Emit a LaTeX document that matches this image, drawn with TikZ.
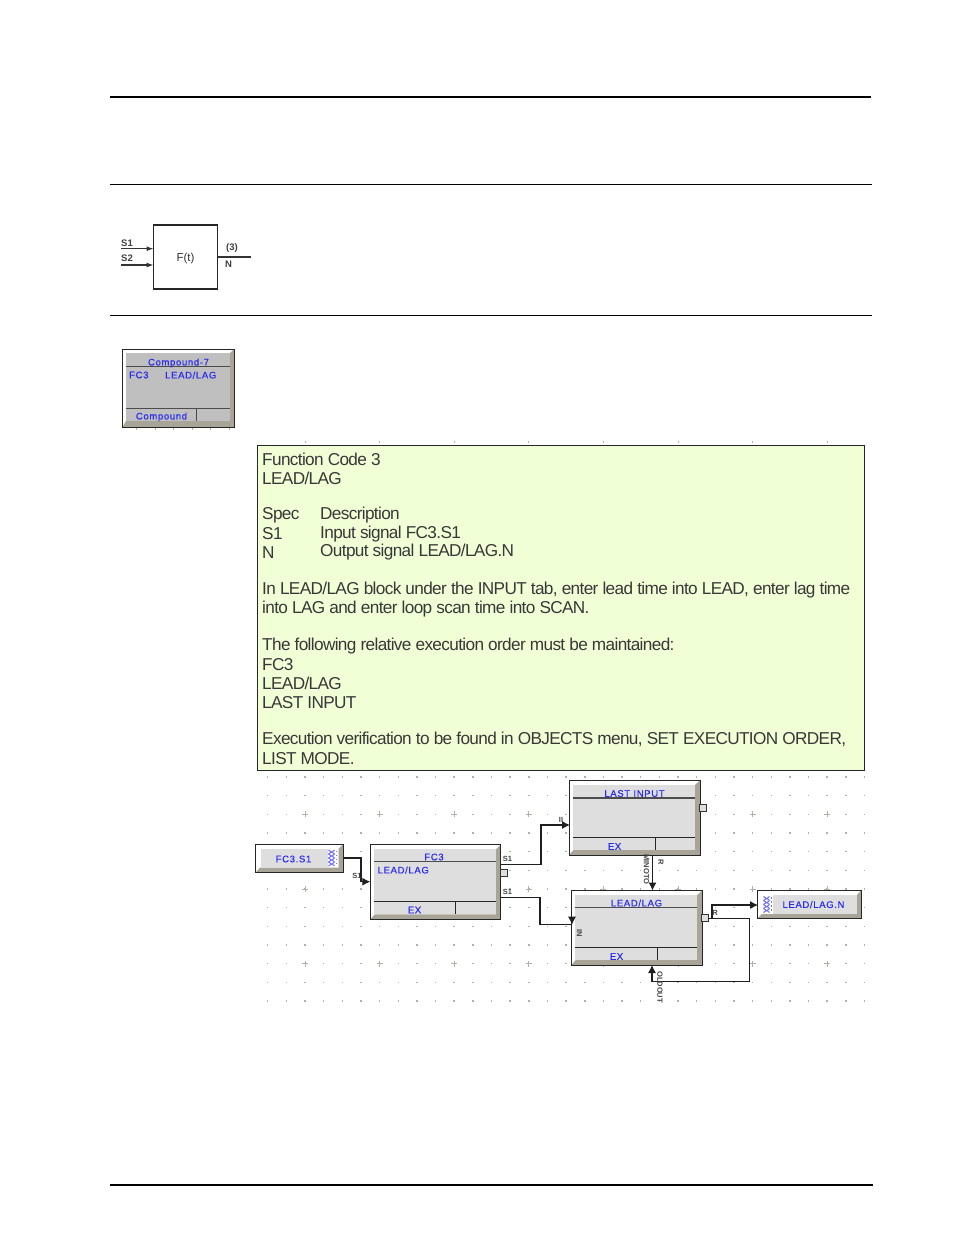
\documentclass[tikz,border=0pt]{standalone}
\usepackage{fontspec}
\setmainfont{Liberation Sans}
\usetikzlibrary{arrows.meta}
\definecolor{noteg}{HTML}{F0FFD6}
\definecolor{bev}{HTML}{A8A498}
\definecolor{inner}{HTML}{DEDEDE}
\definecolor{bluetxt}{HTML}{2A2AF0}
\definecolor{griddot}{HTML}{B4B1A4}
\definecolor{pinlab}{HTML}{444444}
\newfontfamily\tightfont[LetterSpace=-3.75]{Liberation Sans}
\newfontfamily\wideblue[LetterSpace=7,FakeBold=0.3]{Liberation Sans}
\tikzset{
  x=1pt,y=-1pt,
  rulethick/.style={line width=1.5pt,black},
  rulethin/.style={line width=0.9pt,black},
  fn/.style={draw=black!85,line width=1.1pt,fill=white},
  fnline/.style={draw=black!80,line width=1.1pt},
  fnlabel/.style={font=\fontsize{9.5}{11}\selectfont\bfseries,text=black!75,inner sep=0pt},
  blue label/.style={font=\wideblue\fontsize{9.5}{11}\selectfont,text=bluetxt,inner sep=0pt},
  notetext/.style={font=\tightfont\fontsize{17.2}{18}\selectfont,anchor=west,inner sep=0pt,text=black!78},
  wire/.style={draw=black!88,line width=1.05pt},
  arrowwire/.style={wire,-{Latex[length=8pt,width=8pt]}},
  pinlabel/.style={font=\fontsize{7.5}{8}\selectfont\bfseries,text=pinlab,inner sep=0pt},
  pin/.style={draw=black!80,fill=inner,line width=0.9pt},
}
\newcommand{\blockbox}[7]{%
  \fill[white] (#1,#2) rectangle (#3,#4);
  \fill[bev] (#3,#2) -- (#3,#4) -- (#1,#4) -- (#1+4.5,#4-5) -- (#3-5,#4-5) -- (#3-5,#2+5) -- cycle;
  \fill[inner] (#1+4,#2+4.5) rectangle (#3-5,#4-5);
  \draw[black!85,line width=1pt] (#1,#2) rectangle (#3,#4);
  \draw[black!70,line width=1.1pt] (#1+4,#5) -- (#3-5,#5);
  \draw[black!85,line width=0.9pt] (#1+4,#6) -- (#3-5,#6);
  \draw[black!85,line width=0.9pt] (#7,#6) -- (#7,#4-5);
}
\newcommand{\hatchbar}[2]{%
  \foreach \yy in {0,4,...,12}{
    \draw[bluetxt!65,line width=1.1pt] (#1,#2+\yy) -- (#1+3,#2+\yy+2) -- (#1,#2+\yy+4);
    \draw[bluetxt!65,line width=1.1pt] (#1+6,#2+\yy) -- (#1+3.5,#2+\yy+2) -- (#1+6,#2+\yy+4);
    \fill[bluetxt!65] (#1+7,#2+\yy+0.5) rectangle (#1+8.8,#2+\yy+2.2);
  }}
\begin{document}
\begin{tikzpicture}
\useasboundingbox (0,0) rectangle (954,1235);
\fill[white] (0,0) rectangle (954,1235);
% rules
\coordinate (r1a) at (110,97); \coordinate (r1b) at (871,97);
\coordinate (r2a) at (110,184); \coordinate (r2b) at (872,184);
\coordinate (r3a) at (110,315.5); \coordinate (r3b) at (872,315.5);
\coordinate (r4a) at (110,1185); \coordinate (r4b) at (873,1185);
\draw[rulethick] (r1a) -- (r1b);
\draw[rulethin] (r2a) -- (r2b);
\draw[rulethin] (r3a) -- (r3b);
\draw[rulethick] (r4a) -- (r4b);
% function block
\node[fn,minimum width=64pt,minimum height=64pt,inner sep=0pt] (ft) at (185.5,257) {};
\node[font=\fontsize{11.5}{12}\selectfont,text=black!80,inner sep=0pt] (ftl) at (185.5,258.5) {F(t)};
\coordinate (s1in) at (121,248.7); \coordinate (s2in) at (121,265);
\coordinate (s1t) at (153.5,248.7); \coordinate (s2t) at (153.5,265);
\coordinate (nout) at (251,257); \coordinate (nf) at (217.5,257);
\draw[fnline,-{Latex[length=7pt,width=5pt]}] (s1in) -- (s1t);
\draw[fnline,-{Latex[length=7pt,width=5pt]}] (s2in) -- (s2t);
\draw[fnline] (nf) -- (nout);
\node[fnlabel] (ls1) at (127,243.5) {S1};
\node[fnlabel] (ls2) at (127,258.5) {S2};
\node[fnlabel] (l3) at (232,248) {(3)};
\node[fnlabel] (ln) at (228.5,264.5) {N};
% compound tile
\foreach \x in {136,154.5,173,191.5,210,228.5} \fill[griddot] (\x,427.5) rectangle (\x+1,429.5);
\fill[white] (122.5,349) rectangle (234,427);
\fill[bev] (234,349) -- (234,427) -- (122.5,427) -- (126,421) -- (230,421) -- (230,353) -- cycle;
\fill[black!25] (126,353) rectangle (230,421);
\draw[black!85,line width=1pt] (122.5,349) rectangle (234,427);
\coordinate (cta) at (126,366.7); \coordinate (ctb) at (230,366.7);
\coordinate (cfa) at (126,408); \coordinate (cfb) at (230,408);
\coordinate (cda) at (196,408); \coordinate (cdb) at (196,421);
\draw[black!70,line width=1pt] (cta) -- (ctb);
\draw[black!70,line width=1pt] (cfa) -- (cfb);
\draw[black!70,line width=1pt] (cda) -- (cdb);
\node[blue label] (c1) at (178.5,363) {Compound-7};
\node[blue label,anchor=west] (c2) at (129,375) {FC3};
\node[blue label,anchor=west] (c3) at (165,375) {LEAD/LAG};
\node[blue label] (c4) at (161.5,417) {Compound};
% grid
\foreach \i in {0,...,32}{
  \pgfmathsetmacro{\gx}{267.7+18.65*\i}
  \foreach \gy in {777,795.7,814.3,833,851.6,870.3,889,907.6,926.3,945,963.6,982.3,1001}
    \fill[griddot] (\gx-0.75,\gy-0.75) rectangle (\gx+0.75,\gy+0.75);
}
\foreach \gx in {305,379.6,454.2,528.8,603.4,678,752.6,827.2}{
  \fill[griddot] (\gx-0.5,440.5) rectangle (\gx+0.5,443);
  \foreach \gy in {814.3,889,963.6}{
    \draw[griddot,line width=0.8pt] (\gx-3,\gy) -- (\gx+3,\gy) (\gx,\gy-3) -- (\gx,\gy+3);
  }}
% note
\node[draw=black!85,line width=0.9pt,fill=noteg,minimum width=607pt,minimum height=325pt,inner sep=0pt] (note) at (561,608) {};
\node[notetext] (m1) at (262,459.5) {Function Code 3};
\node[notetext] (m2) at (262,478.5) {LEAD/LAG};
\node[notetext] (n1) at (262,515.5) {Spec};
\node[notetext] (n2) at (320,515.5) {Description};
\node[notetext] (n3) at (262,534) {S1};
\node[notetext] (n4) at (320,534) {Input signal FC3.S1};
\node[notetext] (n5) at (262,552.5) {N};
\node[notetext] (n6) at (320,552.5) {Output signal LEAD/LAG.N};
\node[notetext] (n7) at (262,590.5) {In LEAD/LAG block under the INPUT tab, enter lead time into LEAD, enter lag time};
\node[notetext] (n8) at (262,609) {into LAG and enter loop scan time into SCAN.};
\node[notetext] (m3) at (262,646.5) {The following relative execution order must be maintained:};
\node[notetext] (m4) at (262,664.5) {FC3};
\node[notetext] (m5) at (262,683.5) {LEAD/LAG};
\node[notetext] (m6) at (262,702.5) {LAST INPUT};
\node[notetext] (n9) at (262,739.5) {Execution verification to be found in OBJECTS menu, SET EXECUTION ORDER,};
\node[notetext] (n10) at (262,758.5) {LIST MODE.};
% blocks
\blockbox{370.3}{844.7}{500.7}{919.3}{861.3}{901.7}{455.3}
\blockbox{569}{780}{700}{855}{798}{837.3}{655}
\blockbox{571.3}{890.3}{702}{965}{907.7}{947.3}{657.3}
\node[blue label] (b1t) at (434,857) {FC3};
\node[blue label,anchor=west] (b1m) at (377.5,870) {LEAD/LAG};
\node[blue label] (b1f) at (414.5,910) {EX};
\node[blue label] (b2t) at (634.5,793.5) {LAST INPUT};
\node[blue label] (b2f) at (614.5,846.5) {EX};
\node[blue label] (b3t) at (636.5,903) {LEAD/LAG};
\node[blue label] (b3f) at (616.5,956.5) {EX};
% pins
\node[pin,minimum width=6.5pt,minimum height=6.5pt,inner sep=0pt] (p1) at (504,873) {};
\node[pin,minimum width=6.5pt,minimum height=6.5pt,inner sep=0pt] (p2) at (703,808) {};
\node[pin,minimum width=6.5pt,minimum height=6.5pt,inner sep=0pt] (p3) at (705,918) {};
% terminals
\fill[white] (255.5,844.3) rectangle (343,872.7);
\fill[bev] (343,844.3) -- (343,872.7) -- (255.5,872.7) -- (260,867.5) -- (338.5,867.5) -- (338.5,849) -- cycle;
\fill[inner] (260.5,849) rectangle (328,867.5);
\draw[black!85,line width=1pt] (255.5,844.3) rectangle (343,872.7);
\hatchbar{328.5}{850}
\node[blue label] (t1) at (293.5,859) {FC3.S1};
\fill[white] (757.3,890) rectangle (861.3,918.3);
\fill[bev] (861.3,890) -- (861.3,918.3) -- (757.3,918.3) -- (762,914) -- (857,914) -- (857,895) -- cycle;
\fill[inner] (772.5,895) rectangle (857,914);
\draw[black!85,line width=1pt] (757.3,890) rectangle (861.3,918.3);
\hatchbar{763.5}{896.5}
\node[blue label] (t2) at (813.5,904.5) {LEAD/LAG.N};
% connectors
\coordinate (a1) at (343,858); \coordinate (a2) at (361,858); \coordinate (a3) at (361,881.7); \coordinate (a4) at (370.3,881.7);
\draw[arrowwire] (a1) -- (a2) -- (a3) -- (a4);
\coordinate (b1) at (501,864.3); \coordinate (b2) at (541,864.3); \coordinate (b3) at (541,825); \coordinate (b4) at (570,825);
\draw[arrowwire] (b1) -- (b2) -- (b3) -- (b4);
\coordinate (d1) at (501,897.5); \coordinate (d2) at (540,897.5); \coordinate (d3) at (540,924.7); \coordinate (d4) at (572,924.7); \coordinate (d5) at (572,917);
\draw[wire] (d1) -- (d2) -- (d3) -- (d4);
\draw[wire,{Latex[length=8pt,width=8pt]}-] (d4) -- (d5);
\coordinate (e1) at (652.5,855); \coordinate (e2) at (652.5,890.5);
\draw[arrowwire] (e1) -- (e2);
\coordinate (f1) at (708,918.3); \coordinate (f2) at (712,918.3); \coordinate (f3) at (712,905); \coordinate (f4) at (758,905);
\draw[arrowwire] (f1) -- (f2) -- (f3) -- (f4);
\coordinate (g2) at (749.5,918.3); \coordinate (g3) at (749.5,981.5); \coordinate (g4) at (652,981.5); \coordinate (g5) at (652,965);
\draw[arrowwire] (f2) -- (g2) -- (g3) -- (g4) -- (g5);
% pin labels
\node[pinlabel] (s1) at (357,876) {S1};
\node[pinlabel] (s2) at (507.5,859) {S1};
\node[pinlabel] (s3) at (507.5,892) {S1};
\node[pinlabel] (s4) at (561,820) {II};
\node[pinlabel,rotate=-90] (s5) at (579.5,933.5) {IN};
\node[pinlabel,rotate=-90] (s6) at (661,862.5) {R};
\node[pinlabel,rotate=-90] (s7) at (646.5,869.5) {MINOTO};
\node[pinlabel,rotate=-90] (s8) at (660,987) {OLDOUT};
\node[pinlabel] (s9) at (715,912.5) {R};
\end{tikzpicture}
\end{document}
